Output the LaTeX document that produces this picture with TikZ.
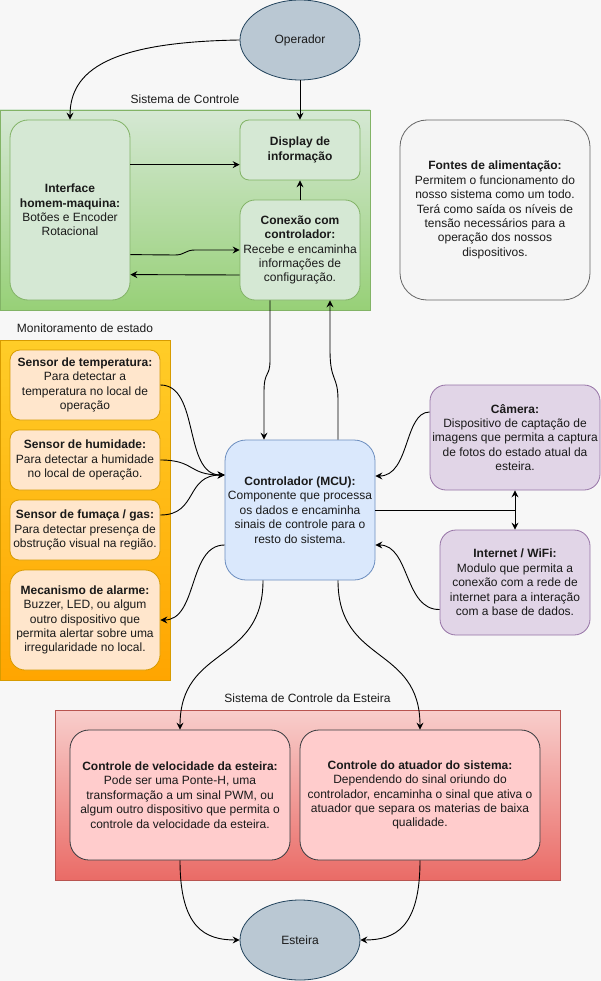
\documentclass[tikz,border=0pt]{standalone}
\usepackage{fontspec}
\setmainfont{Liberation Sans}
\usetikzlibrary{shapes.geometric,arrows.meta,calc}
\definecolor{bg}{HTML}{F7F7F7}
\definecolor{ellfill}{HTML}{BAC8D3}
\definecolor{elldraw}{HTML}{23445D}
\definecolor{gtop}{HTML}{D5E8D4}
\definecolor{gbot}{HTML}{97D077}
\definecolor{gdraw}{HTML}{82B366}
\definecolor{gfill}{HTML}{D5E8D4}
\definecolor{grayfill}{HTML}{F5F5F5}
\definecolor{graydraw}{HTML}{666666}
\definecolor{otop}{HTML}{FFCD28}
\definecolor{obot}{HTML}{FFA500}
\definecolor{odraw}{HTML}{D79B00}
\definecolor{ofill}{HTML}{FFE6CC}
\definecolor{bfill}{HTML}{DAE8FC}
\definecolor{bdraw}{HTML}{6C8EBF}
\definecolor{pfill}{HTML}{E1D5E7}
\definecolor{pdraw}{HTML}{9673A6}
\definecolor{rtop}{HTML}{F8CECC}
\definecolor{rbot}{HTML}{EA6B66}
\definecolor{rdraw}{HTML}{B85450}
\definecolor{rfill}{HTML}{FFCCCC}
\definecolor{rboxdraw}{HTML}{36393D}
\definecolor{txt}{HTML}{1A1A1A}
\begin{document}
\begin{tikzpicture}[x=1pt,y=-1pt,
  every node/.style={font=\fontsize{12}{14.4}\selectfont, text=txt},
  box/.style={draw, inner sep=0pt, align=center, line width=0.8pt},
  cont/.style={draw, inner sep=0pt, line width=0.8pt},
  ell/.style={ellipse, draw=elldraw, fill=ellfill, inner sep=0pt, minimum width=120pt, minimum height=80pt, line width=0.8pt},
  lbl/.style={inner sep=0pt},
  arr/.style={-{Stealth[length=7pt,width=7pt,inset=2.5pt]}, line width=0.9pt, black},
  darr/.style={{Stealth[length=7pt,width=7pt,inset=2.5pt]}-{Stealth[length=7pt,width=7pt,inset=2.5pt]}, line width=0.9pt, black}
]
\useasboundingbox (0,0) rectangle (601,981);
\fill[bg] (0,0) rectangle (601,981);

% containers
\node[cont, draw=gdraw, top color=gtop, bottom color=gbot, minimum width=370pt, minimum height=200pt] (sc) at (185,210) {};
\node[lbl] (sclbl) at (185,99) {Sistema de Controle};
\node[cont, draw=odraw, top color=otop, bottom color=obot, minimum width=170pt, minimum height=340pt] (mon) at (85,510) {};
\node[lbl] (monlbl) at (85,328) {Monitoramento de estado};
\node[cont, draw=rdraw, top color=rtop, bottom color=rbot, minimum width=505pt, minimum height=170pt] (est) at (307.5,795) {};
\node[lbl] (estlbl) at (307.5,698) {Sistema de Controle da Esteira};

% ellipses
\node[ell] (op) at (300,40) {Operador};
\node[ell] (esteira) at (300,940) {Esteira};

% green boxes
\node[box, draw=gdraw, fill=gfill, rounded corners=18pt, minimum width=120pt, minimum height=180pt] (iface) at (70,210)
  {\textbf{Interface}\\\textbf{homem-maquina:}\\Botões e Encoder\\Rotacional};
\node[box, draw=gdraw, fill=gfill, rounded corners=9pt, minimum width=120pt, minimum height=60pt] (disp) at (300,150)
  {\textbf{Display de}\\\textbf{informação}};
\node[box, draw=gdraw, fill=gfill, rounded corners=15pt, minimum width=120pt, minimum height=100pt] (conx) at (300,250)
  {\textbf{Conexão com}\\\textbf{controlador:}\\Recebe e encaminha\\informações de\\configuração.};

% power
\node[box, draw=graydraw, fill=grayfill, rounded corners=27pt, minimum width=190pt, minimum height=180pt] (pwr) at (495,210)
  {\textbf{Fontes de alimentação:}\\Permitem o funcionamento do\\nosso sistema como um todo.\\Terá como saída os níveis de\\tensão necessários para a\\operação dos nossos\\dispositivos.};

% sensors
\node[box, draw=odraw, fill=ofill, rounded corners=10pt, minimum width=150pt, minimum height=70pt] (temp) at (85,385)
  {\textbf{Sensor de temperatura:}\\Para detectar a\\temperatura no local de\\operação};
\node[box, draw=odraw, fill=ofill, rounded corners=9pt, minimum width=150pt, minimum height=60pt] (hum) at (85,460)
  {\textbf{Sensor de humidade:}\\Para detectar a humidade\\no local de operação.};
\node[box, draw=odraw, fill=ofill, rounded corners=9pt, minimum width=150pt, minimum height=60pt] (fum) at (85,530)
  {\textbf{Sensor de fumaça / gas:}\\Para detectar presença de\\obstrução visual na região.};
\node[box, draw=odraw, fill=ofill, rounded corners=15pt, minimum width=150pt, minimum height=100pt] (alarm) at (85,620)
  {\textbf{Mecanismo de alarme:}\\Buzzer, LED, ou algum\\outro dispositivo que\\permita alertar sobre uma\\irregularidade no local.};

% controller
\node[box, draw=bdraw, fill=bfill, rounded corners=21pt, minimum width=150pt, minimum height=140pt] (mcu) at (300,510)
  {\textbf{Controlador (MCU):}\\Componente que processa\\os dados e encaminha\\sinais de controle para o\\resto do sistema.};

% purple
\node[box, draw=pdraw, fill=pfill, rounded corners=16pt, minimum width=170pt, minimum height=105pt] (cam) at (515,437.5)
  {\textbf{Câmera:}\\Dispositivo de captação de\\imagens que permita a captura\\de fotos do estado atual da\\esteira.};
\node[box, draw=pdraw, fill=pfill, rounded corners=16pt, minimum width=150pt, minimum height=105pt] (inet) at (515,582.5)
  {\textbf{Internet / WiFi:}\\Modulo que permita a\\conexão com a rede de\\internet para a interação\\com a base de dados.};

% red boxes
\node[box, draw=rboxdraw, fill=rfill, rounded corners=19pt, minimum width=220pt, minimum height=130pt] (vel) at (180,795)
  {\textbf{Controle de velocidade da esteira:}\\Pode ser uma Ponte-H, uma\\transformação a um sinal PWM, ou\\algum outro dispositivo que permita o\\controle da velocidade da esteira.};
\node[box, draw=rboxdraw, fill=rfill, rounded corners=19pt, minimum width=240pt, minimum height=130pt] (atu) at (420,795)
  {\textbf{Controle do atuador do sistema:}\\Dependendo do sinal oriundo do\\controlador, encaminha o sinal que ativa o\\atuador que separa os materias de baixa\\qualidade.};

% connectors - top
\draw[arr] (op.west) .. controls (110,42) and (70,70) .. (iface.north);
\draw[arr] (op.south) -- (disp.north);
\draw[arr] ($(iface.north east)+(0,45)$) -- ($(disp.north west)+(0,45)$);
\draw[arr] ($(iface.north east)+(0,135)$) -- (175,255) .. controls (185,255) and (185,250) .. (195,250) -- ($(conx.west)$);
\draw[arr] ($(conx.west)+(0,25)$) -- ($(iface.north east)+(0,155)$);
\draw[arr] (conx.north) -- (disp.south);
\draw[arr] ($(conx.south)+(-30,0)$) -- (270,360) .. controls (270,378) and (264,370) .. (264,392) -- ($(mcu.north)+(-36,0)$);
\draw[arr] ($(mcu.north)+(38,0)$) -- (338,400) .. controls (338,375) and (330,382) .. (330,350) -- ($(conx.south)+(30,0)$);

% sensors
\coordinate (mcuin) at ($(mcu.west)+(0,-35)$);
\draw[arr] (temp.east) .. controls (200,385) and (183,475) .. (mcuin);
\draw[arr] (hum.east) .. controls (195,460) and (188,475) .. (mcuin);
\draw[arr] ($(fum.east)+(0,-15)$) .. controls (198,515) and (185,475) .. (mcuin);
\draw[arr] ($(mcu.west)+(0,35)$) .. controls (188,545) and (198,620) .. (alarm.east);

% right side
\draw[arr] ($(cam.west)+(0,-25.5)$) .. controls (404,412) and (410,476) .. ($(mcu.east)+(0,-34)$);
\draw[arr] ($(inet.west)+(0,27)$) .. controls (404,610) and (410,545) .. ($(mcu.east)+(0,35)$);
\coordinate (split) at (515,510);
\draw[line width=0.9pt] (mcu.east) -- (split);
\draw[darr] (cam.south) -- (inet.north);

% bottom
\draw[arr] ($(mcu.south)+(-37,0)$) .. controls (263,665) and (180,645) .. (vel.north);
\draw[arr] ($(mcu.south)+(38,0)$) .. controls (338,665) and (420,645) .. (atu.north);
\draw[arr] (vel.south) .. controls (180,928) and (205,940) .. (esteira.west);
\draw[arr] (atu.south) .. controls (420,928) and (395,940) .. (esteira.east);
\end{tikzpicture}
\end{document}
